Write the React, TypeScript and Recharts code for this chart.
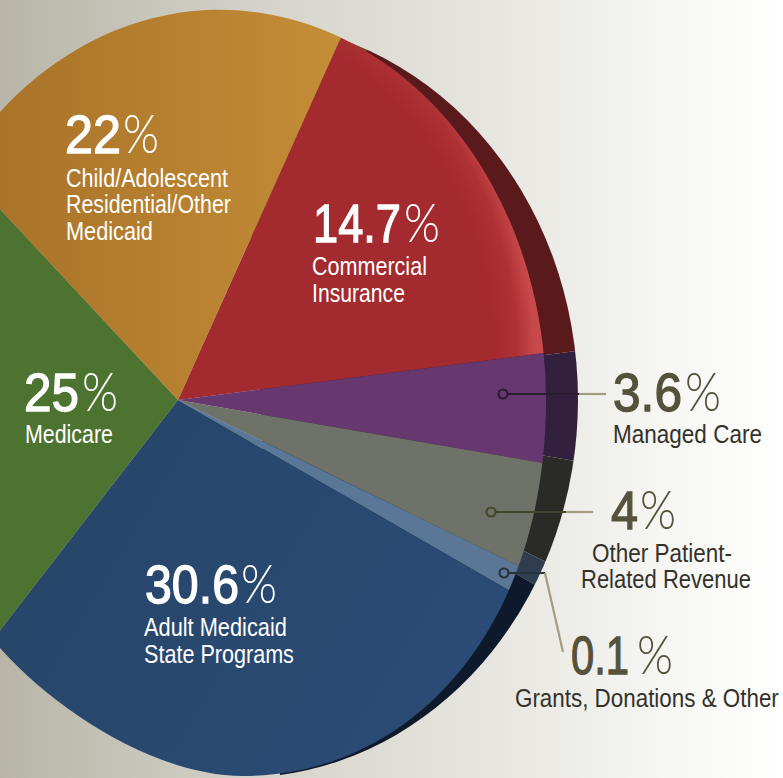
import React from "react";
import { Cell, Pie, PieChart } from "recharts";

const W = 783;
const H = 778;

// percentages as printed on the chart
const sliceNames = ["Commercial Insurance", "Managed Care", "Other Patient-Related Revenue", "Grants, Donations & Other", "Adult Medicaid State Programs", "Medicare", "Child/Adolescent Residential/Other Medicaid"];
const printedPercent = ["14.7", "3.6", "4", "0.1", "30.6", "25", "22"];
// the artwork is not to scale, so the drawn wedges use the spans read off the picture (degrees)
const drawnSpan = [58.5, 17.1, 16.2, 3.9, 97.8, 99.3, 67.2];

const faceColors = ["url(#redSheen)", "#67386f", "#6f7269", "#5a7797", "url(#blueFace)", "#4d7331", "url(#orangeFace)"];
const rimColors = ["#5a191b", "#33203f", "#2a2a27", "#303d4e", "#0e1a2c", "#2c3f1c", "#6b4a1c"];

const faceData = sliceNames.map((name, i) => ({ name, value: drawnSpan[i] }));

const FACE_CLIP = "path('M 0 112 A 326 390 0 0 1 546 400 C 546 630 410 776 243 776 C 160 776 60 715 0 648 Z')";
const RIM_CLIP = "path('M 240 22 A 338 378 0 0 1 578 400 A 338 378 0 0 1 280 775 Z')";

const FONT = "'Liberation Sans', Arial, sans-serif";
const THIN = "Lato, 'Open Sans', sans-serif";

const measureCtx = document.createElement("canvas").getContext("2d");

// the original type is condensed: squeeze each text to the width it has in the picture
function Squeezed({ text, x, y, width, family, size, weight = 400, fill, stroke }: { text: string; x: number; y: number; width: number; family: string; size: number; weight?: number; fill: string; stroke?: number }) {
  measureCtx.font = `${weight} ${size}px ${family}`;
  const sx = width / measureCtx.measureText(text).width;
  return (
    <text
      transform={`translate(${x} ${y}) scale(${sx} 1)`}
      fontFamily={family}
      fontSize={size}
      fontWeight={weight}
      fill={fill}
      stroke={stroke ? fill : undefined}
      strokeWidth={stroke}
    >
      {text}
    </text>
  );
}

type CalloutProps = {
  percent: string;
  lines: string[];
  x: number;
  base: number;
  numWidth: number;
  pctX: number;
  lineX: number[];
  lineWidth: number[];
  lineBase: number[];
  color: string;
  subColor: string;
};

function Callout({ percent, lines, x, base, numWidth, pctX, lineX, lineWidth, lineBase, color, subColor }: CalloutProps) {
  return (
    <g>
      <Squeezed text={percent} x={x} y={base} width={numWidth} family={FONT} size={54} fill={color} stroke={1.3} />
      <Squeezed text="%" x={pctX} y={base} width={36} family={THIN} size={53} weight={300} fill={color} />
      {lines.map((line, i) => (
        <Squeezed key={line} text={line} x={lineX[i]} y={lineBase[i]} width={lineWidth[i]} family={FONT} size={25} fill={subColor} />
      ))}
    </g>
  );
}

function Leader({ cx, cy, x1, x2, inner, outer }: { cx: number; cy: number; x1: number; x2: number; inner: string; outer: string }) {
  return (
    <g fill="none" strokeWidth={2.2}>
      <line x1={cx + 5} y1={cy} x2={x1} y2={cy} stroke={inner} />
      <line x1={x1} y1={cy} x2={x2} y2={cy} stroke={outer} />
      <circle cx={cx} cy={cy} r={4.5} stroke={inner} />
    </g>
  );
}

function Wedges({ colors, cx, cy, clip }: { colors: string[]; cx: number; cy: number; clip: string }) {
  return (
    <div style={{ position: "absolute", left: 0, top: 0, width: W, height: H, clipPath: clip }}>
      <PieChart width={W} height={H} margin={{ top: 0, right: 0, bottom: 0, left: 0 }}>
        <Pie
          data={faceData}
          dataKey="value"
          cx={cx}
          cy={cy}
          innerRadius={0}
          outerRadius={720}
          startAngle={65.8}
          endAngle={-294.2}
          stroke="none"
          isAnimationActive={false}
        >
          {faceData.map((d, i) => (
            <Cell key={d.name} fill={colors[i]} />
          ))}
        </Pie>
      </PieChart>
    </div>
  );
}

export default function App() {
  return (
    <div
      style={{
        position: "absolute",
        left: 0,
        top: 0,
        width: W,
        height: H,
        overflow: "hidden",
        background: "linear-gradient(90deg, #b8b5a8 0%, #d6d4cb 35%, #e6e5df 62%, #f6f6f3 85%, #ffffff 100%)",
      }}
    >
      <svg width={0} height={0} style={{ position: "absolute" }}>
        <defs>
          <radialGradient id="redSheen" gradientUnits="userSpaceOnUse" cx={0} cy={0} r={1} gradientTransform="translate(190 360) scale(345 395)">
            <stop offset="0.88" stopColor="#a32a2e" />
            <stop offset="0.95" stopColor="#ae3135" />
            <stop offset="1" stopColor="#c8494b" />
          </radialGradient>
          <linearGradient id="orangeFace" gradientUnits="userSpaceOnUse" x1={0} y1={0} x2={340} y2={0}>
            <stop offset="0" stopColor="#a97329" />
            <stop offset="1" stopColor="#c48d37" />
          </linearGradient>
          <linearGradient id="blueFace" gradientUnits="userSpaceOnUse" x1={0} y1={400} x2={500} y2={700}>
            <stop offset="0" stopColor="#274466" />
            <stop offset="1" stopColor="#2b4c77" />
          </linearGradient>
        </defs>
      </svg>

      <Wedges colors={rimColors} cx={210} cy={398} clip={RIM_CLIP} />
      <Wedges colors={faceColors} cx={178} cy={400} clip={FACE_CLIP} />

      <svg width={W} height={H} style={{ position: "absolute", left: 0, top: 0 }}>
        <Leader cx={503} cy={394} x1={579} x2={606} inner="#2b1c30" outer="#a39c80" />
        <Leader cx={491} cy={512} x1={566} x2={593} inner="#45452f" outer="#a39c80" />
        <Leader cx={504} cy={573} x1={545} x2={545} inner="#26343f" outer="#a39c80" />
        <line x1={545} y1={573} x2={563} y2={652} stroke="#a39c80" strokeWidth={2.2} />

        <Callout percent={printedPercent[6]} lines={["Child/Adolescent", "Residential/Other", "Medicaid"]} x={65} base={153} numWidth={56} pctX={123} lineX={[66, 66, 66]} lineWidth={[162, 165, 87]} lineBase={[187, 213, 240]} color="#ffffff" subColor="#ffffff" />
        <Callout percent={printedPercent[0]} lines={["Commercial", "Insurance"]} x={313} base={242} numWidth={88} pctX={404} lineX={[312, 312]} lineWidth={[115, 93]} lineBase={[275, 302]} color="#ffffff" subColor="#ffffff" />
        <Callout percent={printedPercent[5]} lines={["Medicare"]} x={24} base={411} numWidth={55} pctX={82} lineX={[25]} lineWidth={[88]} lineBase={[443]} color="#ffffff" subColor="#ffffff" />
        <Callout percent={printedPercent[4]} lines={["Adult Medicaid", "State Programs"]} x={145} base={603} numWidth={94} pctX={241} lineX={[144, 144]} lineWidth={[143, 150]} lineBase={[636, 663]} color="#ffffff" subColor="#ffffff" />
        <Callout percent={printedPercent[1]} lines={["Managed Care"]} x={613} base={411} numWidth={69} pctX={685} lineX={[613]} lineWidth={[149]} lineBase={[443]} color="#55523c" subColor="#33322a" />
        <Callout percent={printedPercent[2]} lines={["Other Patient-", "Related Revenue"]} x={611} base={529} numWidth={27} pctX={640} lineX={[592, 581]} lineWidth={[140, 170]} lineBase={[562, 588]} color="#55523c" subColor="#33322a" />
        <Callout percent={printedPercent[3]} lines={["Grants, Donations & Other"]} x={571} base={674} numWidth={58} pctX={637} lineX={[515]} lineWidth={[264]} lineBase={[707]} color="#55523c" subColor="#33322a" />
      </svg>
    </div>
  );
}
